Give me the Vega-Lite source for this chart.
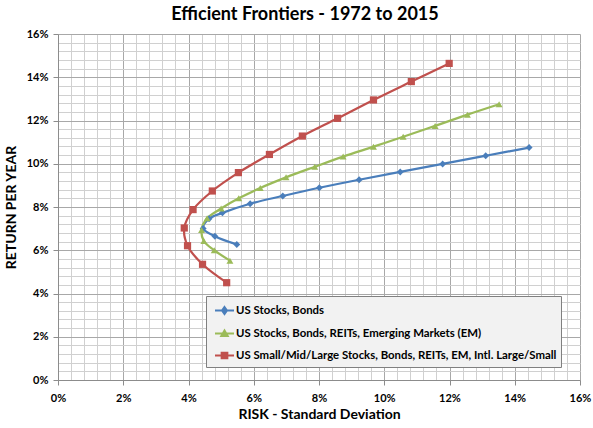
{
  "$schema": "https://vega.github.io/schema/vega-lite/v6.json",
  "autosize": {"type": "none"},
  "width": 522,
  "height": 346,
  "padding": {"left": 58, "top": 34, "right": 13, "bottom": 48},
  "background": "white",
  "title": {
    "text": "Efficient Frontiers - 1972 to 2015",
    "font": "Lato",
    "fontSize": 18,
    "fontWeight": "bold",
    "color": "#000000",
    "anchor": "middle",
    "frame": "group",
    "baseline": "bottom",
    "offset": -14,
    "dx": -14
  },
  "datasets": {
    "frontiers": [
      {"series": "US Stocks, Bonds", "i": 1, "risk": 5.48, "ret": 6.27},
      {"series": "US Stocks, Bonds", "i": 2, "risk": 4.81, "ret": 6.65},
      {"series": "US Stocks, Bonds", "i": 3, "risk": 4.45, "ret": 7.01},
      {"series": "US Stocks, Bonds", "i": 4, "risk": 4.63, "ret": 7.46},
      {"series": "US Stocks, Bonds", "i": 5, "risk": 5.04, "ret": 7.73},
      {"series": "US Stocks, Bonds", "i": 6, "risk": 5.89, "ret": 8.15},
      {"series": "US Stocks, Bonds", "i": 7, "risk": 6.89, "ret": 8.51},
      {"series": "US Stocks, Bonds", "i": 8, "risk": 8.01, "ret": 8.89},
      {"series": "US Stocks, Bonds", "i": 9, "risk": 9.23, "ret": 9.26},
      {"series": "US Stocks, Bonds", "i": 10, "risk": 10.49, "ret": 9.62},
      {"series": "US Stocks, Bonds", "i": 11, "risk": 11.79, "ret": 9.99},
      {"series": "US Stocks, Bonds", "i": 12, "risk": 13.11, "ret": 10.37},
      {"series": "US Stocks, Bonds", "i": 13, "risk": 14.44, "ret": 10.75},
      {"series": "US Stocks, Bonds, REITs, Emerging Markets (EM)", "i": 1, "risk": 5.27, "ret": 5.52},
      {"series": "US Stocks, Bonds, REITs, Emerging Markets (EM)", "i": 2, "risk": 4.79, "ret": 6.0},
      {"series": "US Stocks, Bonds, REITs, Emerging Markets (EM)", "i": 3, "risk": 4.47, "ret": 6.43},
      {"series": "US Stocks, Bonds, REITs, Emerging Markets (EM)", "i": 4, "risk": 4.4, "ret": 6.94},
      {"series": "US Stocks, Bonds, REITs, Emerging Markets (EM)", "i": 5, "risk": 4.57, "ret": 7.48},
      {"series": "US Stocks, Bonds, REITs, Emerging Markets (EM)", "i": 6, "risk": 5.0, "ret": 7.93},
      {"series": "US Stocks, Bonds, REITs, Emerging Markets (EM)", "i": 7, "risk": 5.54, "ret": 8.4},
      {"series": "US Stocks, Bonds, REITs, Emerging Markets (EM)", "i": 8, "risk": 6.2, "ret": 8.88},
      {"series": "US Stocks, Bonds, REITs, Emerging Markets (EM)", "i": 9, "risk": 6.99, "ret": 9.37},
      {"series": "US Stocks, Bonds, REITs, Emerging Markets (EM)", "i": 10, "risk": 7.87, "ret": 9.86},
      {"series": "US Stocks, Bonds, REITs, Emerging Markets (EM)", "i": 11, "risk": 8.74, "ret": 10.33},
      {"series": "US Stocks, Bonds, REITs, Emerging Markets (EM)", "i": 12, "risk": 9.67, "ret": 10.79},
      {"series": "US Stocks, Bonds, REITs, Emerging Markets (EM)", "i": 13, "risk": 10.58, "ret": 11.25},
      {"series": "US Stocks, Bonds, REITs, Emerging Markets (EM)", "i": 14, "risk": 11.56, "ret": 11.75},
      {"series": "US Stocks, Bonds, REITs, Emerging Markets (EM)", "i": 15, "risk": 12.55, "ret": 12.27},
      {"series": "US Stocks, Bonds, REITs, Emerging Markets (EM)", "i": 16, "risk": 13.52, "ret": 12.75},
      {"series": "US Small/Mid/Large Stocks, Bonds, REITs, EM, Intl. Large/Small", "i": 1, "risk": 5.17, "ret": 4.5},
      {"series": "US Small/Mid/Large Stocks, Bonds, REITs, EM, Intl. Large/Small", "i": 2, "risk": 4.43, "ret": 5.35},
      {"series": "US Small/Mid/Large Stocks, Bonds, REITs, EM, Intl. Large/Small", "i": 3, "risk": 3.97, "ret": 6.21},
      {"series": "US Small/Mid/Large Stocks, Bonds, REITs, EM, Intl. Large/Small", "i": 4, "risk": 3.87, "ret": 7.03},
      {"series": "US Small/Mid/Large Stocks, Bonds, REITs, EM, Intl. Large/Small", "i": 5, "risk": 4.14, "ret": 7.88},
      {"series": "US Small/Mid/Large Stocks, Bonds, REITs, EM, Intl. Large/Small", "i": 6, "risk": 4.73, "ret": 8.74},
      {"series": "US Small/Mid/Large Stocks, Bonds, REITs, EM, Intl. Large/Small", "i": 7, "risk": 5.53, "ret": 9.59},
      {"series": "US Small/Mid/Large Stocks, Bonds, REITs, EM, Intl. Large/Small", "i": 8, "risk": 6.48, "ret": 10.43},
      {"series": "US Small/Mid/Large Stocks, Bonds, REITs, EM, Intl. Large/Small", "i": 9, "risk": 7.49, "ret": 11.28},
      {"series": "US Small/Mid/Large Stocks, Bonds, REITs, EM, Intl. Large/Small", "i": 10, "risk": 8.57, "ret": 12.1},
      {"series": "US Small/Mid/Large Stocks, Bonds, REITs, EM, Intl. Large/Small", "i": 11, "risk": 9.67, "ret": 12.95},
      {"series": "US Small/Mid/Large Stocks, Bonds, REITs, EM, Intl. Large/Small", "i": 12, "risk": 10.83, "ret": 13.8},
      {"series": "US Small/Mid/Large Stocks, Bonds, REITs, EM, Intl. Large/Small", "i": 13, "risk": 11.99, "ret": 14.64}
    ]
  },
  "data": {"name": "frontiers"},
  "encoding": {
    "x": {
      "field": "risk",
      "type": "quantitative",
      "scale": {"domain": [0, 16], "nice": false, "zero": false},
      "axis": {
        "title": "RISK - Standard Deviation",
        "values": [0, 0.4, 0.8, 1.2, 1.6, 2, 2.4, 2.8, 3.2, 3.6, 4, 4.4, 4.8, 5.2, 5.6, 6, 6.4, 6.8, 7.2, 7.6, 8, 8.4, 8.8, 9.2, 9.6, 10, 10.4, 10.8, 11.2, 11.6, 12, 12.4, 12.8, 13.2, 13.6, 14, 14.4, 14.8, 15.2, 15.6, 16],
        "labelExpr": "datum.value % 2 === 0 ? datum.value + '%' : ''",
        "gridColor": {"condition": {"test": "datum.value % 2 === 0", "value": "#a8a8a8"}, "value": "#d0d0d0"},
        "tickColor": {"condition": {"test": "datum.value % 2 === 0", "value": "#8c8c8c"}, "value": "transparent"},
        "labelPadding": 7,
        "titlePadding": 4
      }
    },
    "y": {
      "field": "ret",
      "type": "quantitative",
      "scale": {"domain": [0, 16], "nice": false, "zero": false},
      "axis": {
        "title": "RETURN PER YEAR",
        "values": [0, 0.4, 0.8, 1.2, 1.6, 2, 2.4, 2.8, 3.2, 3.6, 4, 4.4, 4.8, 5.2, 5.6, 6, 6.4, 6.8, 7.2, 7.6, 8, 8.4, 8.8, 9.2, 9.6, 10, 10.4, 10.8, 11.2, 11.6, 12, 12.4, 12.8, 13.2, 13.6, 14, 14.4, 14.8, 15.2, 15.6, 16],
        "labelExpr": "datum.value % 2 === 0 ? datum.value + '%' : ''",
        "gridColor": {"condition": {"test": "datum.value % 2 === 0", "value": "#a8a8a8"}, "value": "#d0d0d0"},
        "tickColor": {"condition": {"test": "datum.value % 2 === 0", "value": "#8c8c8c"}, "value": "transparent"},
        "labelPadding": 5,
        "titlePadding": 8
      }
    },
    "color": {
      "field": "series",
      "type": "nominal",
      "scale": {
        "domain": ["US Stocks, Bonds", "US Stocks, Bonds, REITs, Emerging Markets (EM)", "US Small/Mid/Large Stocks, Bonds, REITs, EM, Intl. Large/Small"],
        "range": ["#4a7ebb", "#9bbb59", "#c0504d"]
      },
      "legend": {
        "title": null,
        "orient": "none",
        "legendX": 148,
        "legendY": 262,
        "padding": 4,
        "symbolOffset": 4,
        "rowPadding": 5,
        "symbolSize": 361,
        "labelOffset": 1,
        "fillColor": "#f2f2f2",
        "strokeColor": "#808080",
        "labelFont": "Lato",
        "labelFontSize": 11.4,
        "labelFontWeight": "bold",
        "labelColor": "#000000",
        "labelLimit": 400,
        "encode": {
          "symbols": {
            "update": {
              "shape": {"signal": "datum.value === 'US Stocks, Bonds' ? 'M-1,0H1M0,-0.36L0.26,0L0,0.36L-0.26,0Z' : datum.value === 'US Stocks, Bonds, REITs, Emerging Markets (EM)' ? 'M-1,0H1M-0.34,0.26L0,-0.32L0.34,0.26Z' : 'M-1,0H1M-0.3,-0.3H0.3V0.3H-0.3Z'"},
              "fill": {"scale": "color", "field": "value"},
              "stroke": {"scale": "color", "field": "value"},
              "strokeWidth": {"value": 2},
              "opacity": {"value": 1}
            }
          }
        }
      }
    }
  },
  "layer": [
    {
      "mark": {"type": "line", "interpolate": "catmull-rom", "strokeWidth": 2.25},
      "encoding": {
        "order": {"field": "i", "type": "quantitative"}
      }
    },
    {
      "transform": [{"filter": "datum.series === 'US Stocks, Bonds'"}],
      "mark": {"type": "point", "shape": "diamond", "filled": true, "opacity": 1, "size": 48}
    },
    {
      "transform": [{"filter": "datum.series === 'US Stocks, Bonds, REITs, Emerging Markets (EM)'"}],
      "mark": {"type": "point", "shape": "triangle-up", "filled": true, "opacity": 1, "size": 48}
    },
    {
      "transform": [{"filter": "datum.series === 'US Small/Mid/Large Stocks, Bonds, REITs, EM, Intl. Large/Small'"}],
      "mark": {"type": "point", "shape": "square", "filled": true, "opacity": 1, "size": 52}
    },
    {
      "data": {"values": [{"note": "engineeredportfolio.com"}]},
      "mark": {"type": "text", "align": "right", "baseline": "middle", "font": "Lato", "fontSize": 10.5, "color": "#222222", "dx": 8},
      "encoding": {
        "x": {"datum": 16},
        "y": {"datum": -2.0},
        "text": {"field": "note"},
        "color": null
      }
    }
  ],
  "config": {
    "view": {"stroke": null},
    "axis": {
      "labelFont": "Lato",
      "labelFontSize": 11,
      "labelFontWeight": "bold",
      "labelColor": "#000000",
      "labelFlush": false,
      "labelOverlap": false,
      "titleFont": "Lato",
      "titleFontSize": 14,
      "titleFontWeight": "bold",
      "titleColor": "#000000",
      "domainColor": "#8c8c8c",
      "tickSize": 5,
      "gridWidth": 1,
      "gridOpacity": 1
    }
  }
}
